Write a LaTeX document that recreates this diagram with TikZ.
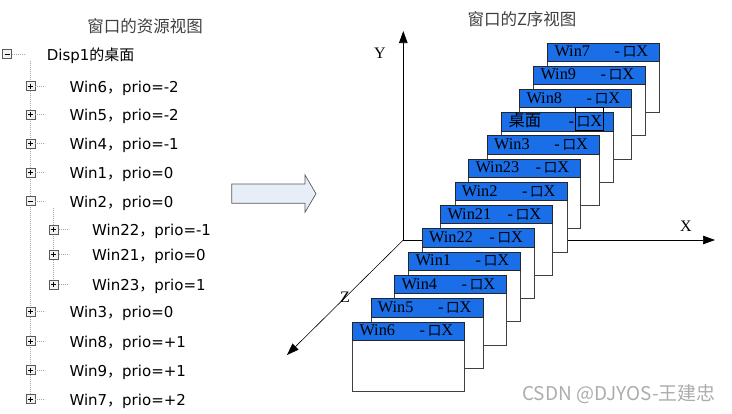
\documentclass[tikz,border=0pt]{standalone}
\usepackage{fontspec}
\setmainfont{Liberation Serif}
\newfontfamily\cjkf{Noto Sans CJK SC}
\newfontfamily\treef{DejaVu Sans}
\usetikzlibrary{arrows.meta}
\definecolor{winblue}{RGB}{26,110,232}
\definecolor{arrowfill}{RGB}{232,238,248}
\begin{document}
\begin{tikzpicture}[x=1pt,y=-1pt,
  tbox/.style={draw=gray!70!black, fill=gray!10, minimum size=9pt, inner sep=0pt, line width=0.6pt},
  dotl/.style={gray!70, line width=0.6pt, dash pattern=on 0.8pt off 1.2pt},
  ttext/.style={font=\treef\fontsize{15}{17}\selectfont, anchor=base west, inner sep=0pt},
  winbody/.style={draw=black!75, fill=white, line width=0.9pt, minimum width=112pt, minimum height=69.5pt, inner sep=0pt, anchor=north west},
  winbar/.style={draw=black!85, fill=winblue, line width=0.9pt, minimum width=112pt, minimum height=18.3pt, inner sep=0pt, anchor=north west},
  wtext/.style={font=\fontsize{16.3}{18}\selectfont, inner sep=0pt},
  axisline/.style={line width=0.7pt, -{Triangle[length=12pt,width=8.5pt]}},
  axlabel/.style={font=\fontsize{16}{18}\selectfont, inner sep=0pt},
  titlef/.style={font=\cjkf\fontsize{16.5}{18}\selectfont, text=black!75, inner sep=0pt}
]
\useasboundingbox (0,0) rectangle (732,413);

% ---------------- left: resource tree ----------------
\node[titlef] (ltitle) at (145,26) {窗口的资源视图};

\draw[dotl] (30.5,61) -- (30.5,395);
\draw[dotl] (53.7,208) -- (53.7,280);

% root
\node[tbox] (b0) at (7,54) {};
\draw[dotl] (b0.east) -- ++(14,0);
\draw[line width=0.8pt] (b0.center) ++(-2.5,0) -- ++(5,0);
\node[ttext] (t0) at (46.7,60) {Disp1{\cjkf 的桌面}};

\foreach \n/\bx/\y/\tx/\s/\lab in {
  w6/30.5/86/69.3/p/Win6{\cjkf ，}prio=-2,
  w5/30.5/114.7/69.3/p/Win5{\cjkf ，}prio=-2,
  w4/30.5/143.3/69.3/p/Win4{\cjkf ，}prio=-1,
  w1/30.5/172.3/69.3/p/Win1{\cjkf ，}prio=0,
  w2/30.5/201/69.3/m/Win2{\cjkf ，}prio=0,
  w22/53.7/229.5/92/p/Win22{\cjkf ，}prio=-1,
  w21/53.7/254.5/92/p/Win21{\cjkf ，}prio=0,
  w23/53.7/284.3/92/p/Win23{\cjkf ，}prio=1,
  w3/30.5/311.7/69.3/p/Win3{\cjkf ，}prio=0,
  w8/30.5/341/69.3/p/Win8{\cjkf ，}prio=+1,
  w9/30.5/370/69.3/p/Win9{\cjkf ，}prio=+1,
  w7/30.5/399/69.3/p/Win7{\cjkf ，}prio=+2}{
  \node[tbox] (b\n) at (\bx,\y) {};
  \draw[dotl] (b\n.east) -- ++(10,0);
  \draw[line width=0.8pt] (b\n.center) ++(-2.5,0) -- ++(5,0);
  \if\s p\draw[line width=0.8pt] (b\n.center) ++(0,-2.5) -- ++(0,5);\fi
  \node[ttext] (t\n) at (\tx,\y+6) {\lab};
}

% ---------------- big arrow ----------------
\draw[draw=black!65, fill=arrowfill, line width=0.7pt]
  (231.7,184) -- (305,184) -- (305,175) -- (316,193.7) -- (305,212.3) -- (305,203.3) -- (231.7,203.3) -- cycle;

% ---------------- right: Z order view ----------------
\node[titlef] (rtitle) at (522,19) {窗口的Z序视图};

\coordinate (o) at (403.3,240);
\coordinate (ytip) at (403.3,31);
\coordinate (xtip) at (715,240);
\coordinate (ztip) at (287,355);
\draw[axisline] (o) -- (ytip);
\draw[axisline] (o) -- (xtip);
\draw[axisline, line width=0.6pt] (o) -- (ztip);
\node[axlabel] (ylab) at (380,53) {Y};
\node[axlabel] (xlab) at (686,226) {X};
\node[axlabel] (zlab) at (345,297) {Z};

\foreach \n/\x/\y/\lab in {
  z7/547.3/42.7/Win7,
  z9/533.3/65.7/Win9,
  z8/519.3/89/Win8,
  zd/501.3/112.3/{\cjkf 桌面},
  z3/487/135.3/Win3,
  z23/468.3/158.7/Win23,
  z2/454.7/182/Win2,
  z21/440.3/205/Win21,
  z22/422/228.3/Win22,
  z1/408.3/251.7/Win1,
  z4/394.3/275/Win4,
  z5/370.7/298.3/Win5,
  z6/352.3/321.7/Win6}{
  \node[winbody] (\n) at (\x,\y) {};
  \node[winbar] (\n-bar) at (\x,\y) {};
  \node[wtext, anchor=base west] (\n-name) at (\x+7,\y+14) {\lab};
  \node[wtext, anchor=base east] (\n-btn) at (\x+101,\y+14) {-\,{\cjkf\fontsize{13.5}{14}\selectfont 口}X};
}
\draw[black, line width=0.8pt] (575.5,107.3) rectangle (603.3,130.7);

% watermark
\node[font=\cjkf\fontsize{19}{21}\selectfont, text=gray!65, anchor=west, inner sep=0pt] (wm) at (522,394) {CSDN @DJYOS-王建忠};
\end{tikzpicture}
\end{document}
